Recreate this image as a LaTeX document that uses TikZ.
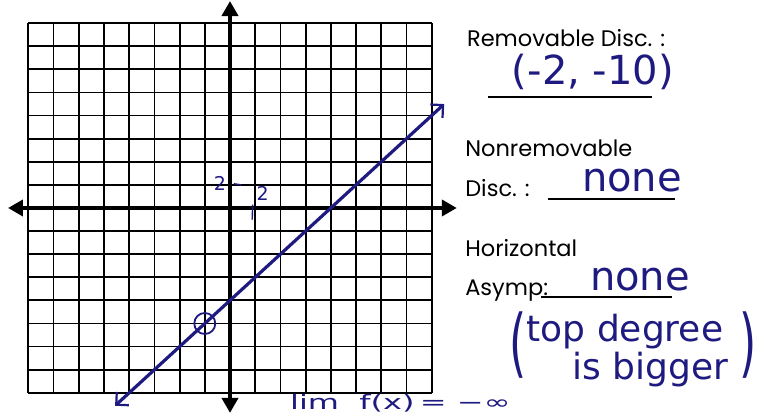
\documentclass[tikz,border=0pt]{standalone}
\usepackage{fontspec}
\setmainfont{Poppins}
\newfontfamily\handfont{DejaVu Sans}
\usetikzlibrary{arrows.meta}
\definecolor{inkblue}{RGB}{30,26,128}
\tikzset{
  gridline/.style={black,line width=1.8pt},
  axis/.style={black,line width=4pt,{Triangle[length=15pt,width=16pt]}-{Triangle[length=15pt,width=16pt]}},
  graphline/.style={inkblue,line width=3.2pt,line cap=round,
    {Straight Barb[length=9pt,width=18pt,line width=2.2pt]}-{Straight Barb[length=9pt,width=18pt,line width=2.2pt]}},
  hole/.style={draw=inkblue,circle,line width=1.8pt,minimum size=21pt,inner sep=0pt},
  prompt/.style={font=\fontsize{22.5}{26}\selectfont,anchor=base west,inner sep=0pt},
  answer/.style={inkblue,font=\handfont\fontsize{40}{44}\selectfont,inner sep=0pt},
  note/.style={inkblue,font=\handfont\fontsize{36}{40}\selectfont,inner sep=0pt},
  paren/.style={inkblue,font=\handfont\fontsize{44}{44}\selectfont,inner sep=0pt},
  blank/.style={black,line width=1.6pt},
  tlab/.style={inkblue,font=\handfont\fontsize{19}{19}\selectfont,inner sep=0pt},
  tick/.style={inkblue,line width=1.4pt}
}
\begin{document}
\begin{tikzpicture}[x=25.2pt,y=23.1pt]
  \clip (-9.127,-9.048) rectangle (21.19,9.004);
  \fill[white] (-9.127,-9.048) rectangle (21.19,9.004);
  % graph paper
  \foreach \i in {-8,...,8} {
    \draw[gridline] (\i,-8) -- (\i,8);
    \draw[gridline] (-8,\i) -- (8,\i);
  }
  \draw[axis] (-8.81,0) -- (9.0,0);
  \draw[axis] (0,-8.87) -- (0,8.96);
  % scale marks
  \draw[tick] (0.15,1.05) -- (0.45,1.0);
  \draw[tick] (0.9,0.15) -- (0.88,-0.5);
  \node[tlab] (ytick) at (-0.4,1.05) {2};
  \node[tlab] (xtick) at (1.3,0.62) {2};
  % the line y = x - 8 with its hole
  \draw[graphline] (-4.56,-8.56) -- (8.5,4.5);
  \node[hole] (hole) at (-1,-5) {};
  % answers
  \node[prompt] (remdisc) at (9.40,7.01) {Removable Disc. :};
  \draw[blank] (10.24,4.81) -- (16.75,4.81);
  \node[answer] (remans) at (14.4,5.9) {(-2, -10)};
  \node[prompt] (nonrem) at (9.33,2.21) {Nonremovable};
  \node[prompt] (nondisc) at (9.33,0.48) {Disc. :};
  \draw[blank] (12.6,0.39) -- (17.66,0.39);
  \node[answer] (nonans) at (15.95,1.2) {none};
  \node[prompt] (horiz) at (9.33,-2.12) {Horizontal};
  \node[prompt] (asymp) at (9.33,-3.77) {Asymp:};
  \draw[blank] (12.35,-3.85) -- (17.54,-3.85);
  \node[answer] (horans) at (16.27,-3.1) {none};
  \node[note] (topdeg) at (15.67,-5.37) {top degree};
  \node[note] (bigger) at (16.67,-7.01) {is bigger};
  \node[paren] (lparen) at (11.43,-5.93) {\scalebox{1}[1.7]{(}};
  \node[paren] (rparen) at (20.56,-5.93) {\scalebox{1}[1.7]{)}};
  \node[answer,font=\handfont\fontsize{20}{20}\selectfont,anchor=base west] (limit) at (2.38,-8.72)
    {\scalebox{1.6}[1]{lim\ \ f(x)\,=\ −∞}};
\end{tikzpicture}
\end{document}
